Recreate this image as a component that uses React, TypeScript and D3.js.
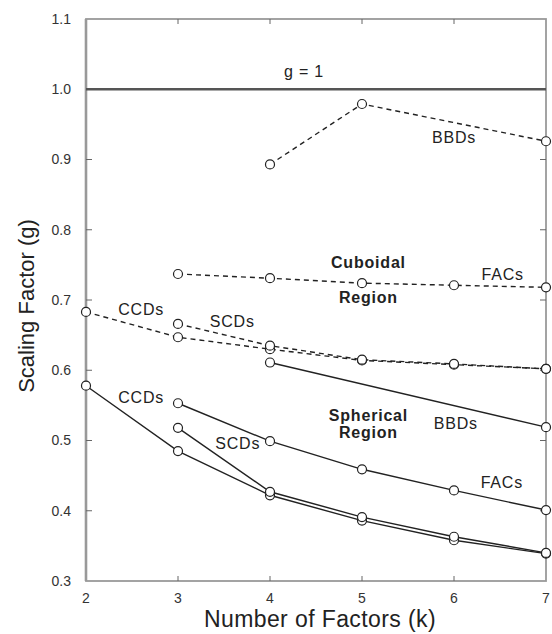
import React from 'react';
import * as d3 from 'd3';

const width = 552;
const height = 634;
const margin = {top: 19, right: 6, bottom: 53, left: 86};
const ink = '#222';
const font = '"Liberation Sans", Arial, sans-serif';

const kTicks = [2, 3, 4, 5, 6, 7];
const gTicks = [0.3, 0.4, 0.5, 0.6, 0.7, 0.8, 0.9, 1.0, 1.1];
const gTickLabels = ['0.3', '0.4', '0.5', '0.6', '0.7', '0.8', '0.9', '1.0', '1.1'];

// cuboidal region (dashed)
const bbdCubeK = [4, 5, 7];
const bbdCubeG = [0.893, 0.979, 0.926];
const facCubeK = [3, 4, 5, 6, 7];
const facCubeG = [0.737, 0.731, 0.724, 0.721, 0.718];
const ccdCubeK = [2, 3, 4, 5, 6, 7];
const ccdCubeG = [0.683, 0.647, 0.630, 0.614, 0.608, 0.602];
const scdCubeK = [3, 4, 5, 6, 7];
const scdCubeG = [0.666, 0.635, 0.615, 0.609, 0.602];

// spherical region (solid)
const bbdSphK = [4, 7];
const bbdSphG = [0.611, 0.519];
const facSphK = [3, 4, 5, 6, 7];
const facSphG = [0.553, 0.499, 0.459, 0.429, 0.401];
const ccdSphK = [2, 3, 4, 5, 6, 7];
const ccdSphG = [0.578, 0.485, 0.422, 0.386, 0.358, 0.339];
const scdSphK = [3, 4, 5, 6, 7];
const scdSphG = [0.518, 0.427, 0.391, 0.363, 0.340];

const series = [
  {k: bbdCubeK, g: bbdCubeG, dashed: true},
  {k: facCubeK, g: facCubeG, dashed: true},
  {k: ccdCubeK, g: ccdCubeG, dashed: true},
  {k: scdCubeK, g: scdCubeG, dashed: true},
  {k: bbdSphK, g: bbdSphG, dashed: false},
  {k: facSphK, g: facSphG, dashed: false},
  {k: ccdSphK, g: ccdSphG, dashed: false},
  {k: scdSphK, g: scdSphG, dashed: false},
];

// text labels placed in data units
const notes = [
  {text: 'g = 1', k: 4.37, g: 1.025, bold: false},
  {text: 'BBDs', k: 6.0, g: 0.932, bold: false},
  {text: 'Cuboidal', k: 5.07, g: 0.754, bold: true},
  {text: 'Region', k: 5.07, g: 0.704, bold: true},
  {text: 'FACs', k: 6.53, g: 0.737, bold: false},
  {text: 'CCDs', k: 2.6, g: 0.686, bold: false},
  {text: 'SCDs', k: 3.59, g: 0.669, bold: false},
  {text: 'CCDs', k: 2.6, g: 0.562, bold: false},
  {text: 'SCDs', k: 3.65, g: 0.496, bold: false},
  {text: 'Spherical', k: 5.07, g: 0.536, bold: true},
  {text: 'Region', k: 5.07, g: 0.512, bold: true},
  {text: 'BBDs', k: 6.02, g: 0.525, bold: false},
  {text: 'FACs', k: 6.52, g: 0.44, bold: false},
];

const x = d3.scaleLinear().domain([2, 7]).range([margin.left, width - margin.right]);
const y = d3.scaleLinear().domain([0.3, 1.1]).range([height - margin.bottom, margin.top]);
const line = d3.line<[number, number]>().x(d => x(d[0])).y(d => y(d[1]));

export default function App() {
  const x0 = x(2), x1 = x(7), y0 = y(0.3), y1 = y(1.1);
  return (
    <svg width={width} height={height} style={{position: 'absolute', left: 0, top: 0}} fontFamily={font}>
      <rect x={0} y={0} width={width} height={height} fill="#fff" />
      {/* frame */}
      <rect x={x0} y={y1} width={x1 - x0} height={y0 - y1} fill="none" stroke="#999" strokeWidth={1.8} />
      <line x1={x0} x2={x0} y1={y1} y2={y0} stroke="#999" strokeWidth={2.6} />
      {kTicks.slice(1, -1).map(k => (
        <g key={k}>
          <line x1={x(k)} x2={x(k)} y1={y0} y2={y0 - 5} stroke="#666" />
          <line x1={x(k)} x2={x(k)} y1={y1} y2={y1 + 5} stroke="#666" />
        </g>
      ))}
      {gTicks.slice(1, -1).map(g => (
        <g key={g}>
          <line x1={x0} x2={x0 + 6} y1={y(g)} y2={y(g)} stroke="#666" />
          <line x1={x1} x2={x1 - 6} y1={y(g)} y2={y(g)} stroke="#666" />
        </g>
      ))}
      {gTicks.map((g, i) => (
        <text key={g} x={x0 - 15} y={y(g)} dy="0.35em" textAnchor="end" fontSize={14} fill="#333">{gTickLabels[i]}</text>
      ))}
      {kTicks.map(k => (
        <text key={k} x={x(k)} y={y0 + 22} textAnchor="middle" fontSize={14} fill="#333">{k}</text>
      ))}
      <text x={320} y={height - 7} textAnchor="middle" fontSize={23} letterSpacing={0.4} fill="#222">Number of Factors (k)</text>
      <text transform={`translate(34, 306) rotate(-90)`} textAnchor="middle" fontSize={22} fill="#222">Scaling Factor (g)</text>

      {/* g = 1 */}
      <line x1={x0} x2={x1} y1={y(1)} y2={y(1)} stroke="#555" strokeWidth={2.6} />

      {series.map((s, i) => {
        const pts = s.k.map((k, j) => [k, s.g[j]] as [number, number]);
        return (
          <g key={i}>
            <path d={line(pts) || ''} fill="none" stroke={ink} strokeWidth={1.4}
              strokeDasharray={s.dashed ? '5,4' : undefined} />
            {pts.map((p, j) => (
              <circle key={j} cx={x(p[0])} cy={y(p[1])} r={4.5} fill="#fff" stroke={ink} strokeWidth={1.2} />
            ))}
          </g>
        );
      })}

      {notes.map((n, i) => (
        <text key={i} x={x(n.k)} y={y(n.g)} dy="0.35em" textAnchor="middle" fontSize={16} letterSpacing={0.8}
          fontWeight={n.bold ? 'bold' : 'normal'} fill="#222">{n.text}</text>
      ))}
    </svg>
  );
}
